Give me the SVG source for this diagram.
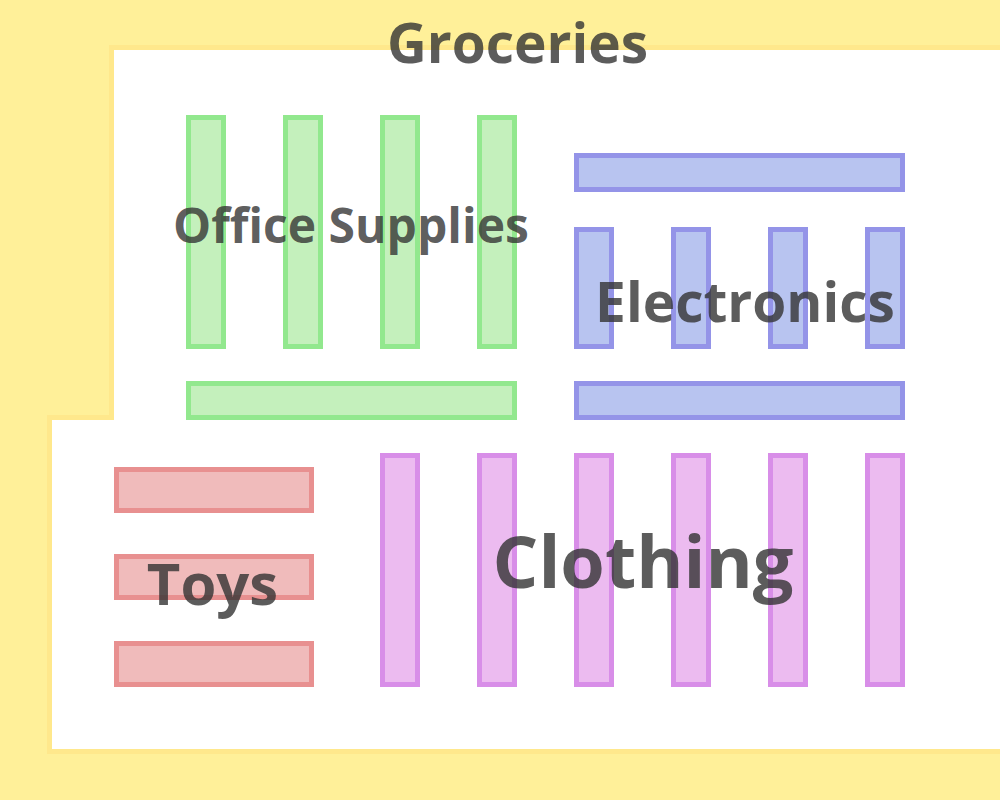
<svg xmlns="http://www.w3.org/2000/svg" width="1000" height="800" viewBox="0 0 1000 800">
  <style>
    .lbl { font-family: "Open Sans", "Noto Sans", "DejaVu Sans", sans-serif; font-weight: bold; fill: #333333; fill-opacity: 0.8; text-anchor: middle; }
    .office { fill: #C4F0BC; stroke: #92E88E; stroke-width: 5; }
    .elec { fill: #B8C4F0; stroke: #9494E8; stroke-width: 5; }
    .toys { fill: #F0BBBB; stroke: #E89090; stroke-width: 5; }
    .cloth { fill: #ECBBF0; stroke: #D88EE8; stroke-width: 5; }
  </style>
  <g id="groceries">
    <rect x="0" y="0" width="1000" height="800" fill="#FFF099"/>
    <polygon points="114,50 1010,50 1010,749 52,749 52,420 114,420" fill="none" stroke="#FFE88C" stroke-width="10"/>
    <polygon points="114,50 1010,50 1010,749 52,749 52,420 114,420" fill="#FFFFFF"/>
  </g>
  <g id="office-supplies">
    <rect class="office" x="188.5" y="117.5" width="35" height="229"/>
    <rect class="office" x="285.5" y="117.5" width="35" height="229"/>
    <rect class="office" x="382.5" y="117.5" width="35" height="229"/>
    <rect class="office" x="479.5" y="117.5" width="35" height="229"/>
    <rect class="office" x="188.5" y="383.5" width="326" height="34"/>
  </g>
  <g id="electronics">
    <rect class="elec" x="576.5" y="155.5" width="326" height="34"/>
    <rect class="elec" x="576.5" y="229.5" width="35" height="117"/>
    <rect class="elec" x="673.5" y="229.5" width="35" height="117"/>
    <rect class="elec" x="770.5" y="229.5" width="35" height="117"/>
    <rect class="elec" x="867.5" y="229.5" width="35" height="117"/>
    <rect class="elec" x="576.5" y="383.5" width="326" height="34"/>
  </g>
  <g id="toys">
    <rect class="toys" x="116.5" y="469.5" width="195" height="41"/>
    <rect class="toys" x="116.5" y="556.5" width="195" height="41"/>
    <rect class="toys" x="116.5" y="643.5" width="195" height="41"/>
  </g>
  <g id="clothing">
    <rect class="cloth" x="382.5" y="455.5" width="35" height="229"/>
    <rect class="cloth" x="479.5" y="455.5" width="35" height="229"/>
    <rect class="cloth" x="576.5" y="455.5" width="35" height="229"/>
    <rect class="cloth" x="673.5" y="455.5" width="35" height="229"/>
    <rect class="cloth" x="770.5" y="455.5" width="35" height="229"/>
    <rect class="cloth" x="867.5" y="455.5" width="35" height="229"/>
  </g>
  <g id="connectors"></g>
  <g id="labels">
    <text class="lbl" x="517.5" y="63" font-size="55">Groceries</text>
    <text class="lbl" x="351" y="243" font-size="48">Office Supplies</text>
    <text class="lbl" x="745" y="322" font-size="55">Electronics</text>
    <text class="lbl" x="212.5" y="605" font-size="58">Toys</text>
    <text class="lbl" x="643" y="588" font-size="72">Clothing</text>
  </g>
</svg>
